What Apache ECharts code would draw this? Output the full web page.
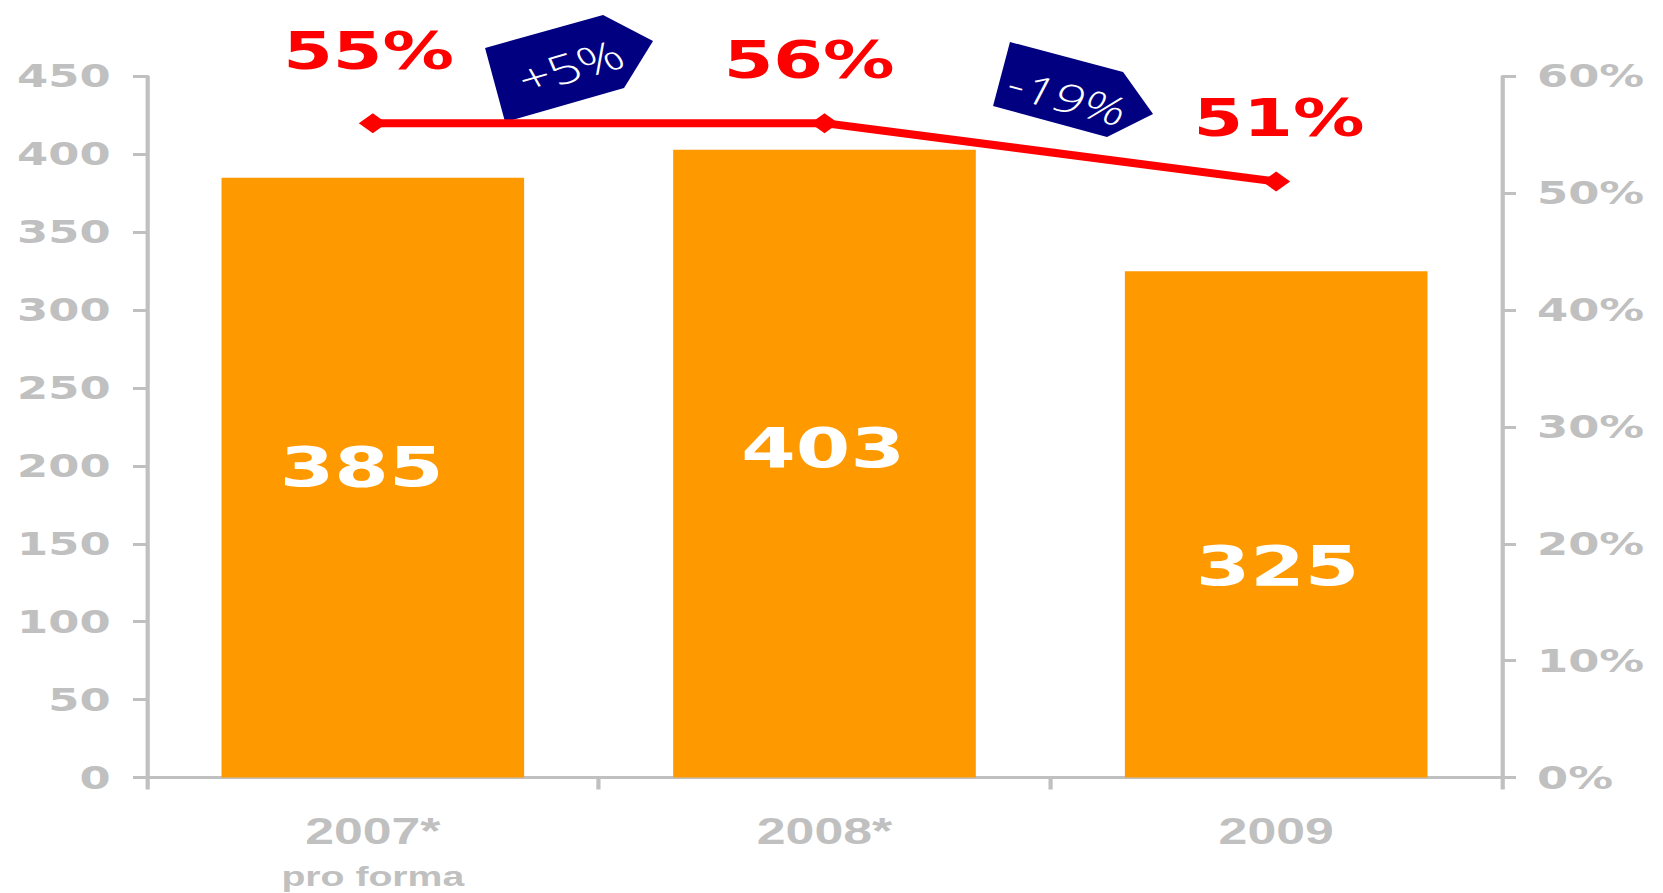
<!DOCTYPE html>
<html>
<head>
<meta charset="utf-8">
<script src="https://cdn.jsdelivr.net/npm/echarts@6/dist/echarts.min.js"></script>
<style>
  html, body { margin: 0; padding: 0; background: #ffffff; overflow: hidden; }
  #wrap { width: 1663px; height: 893px; overflow: hidden; position: relative; }
  #chart { width: 1188px; height: 893px; transform-origin: 0 0; position: absolute; left: 0; top: 0; }
</style>
</head>
<body>
<div id="wrap"><div id="chart"></div></div>
<script>
// ---- data ----
const categories = ['2007*', '2008*', '2009'];
const subLabels = ['pro forma', '', ''];
const barValues = [385, 403, 325];
const shareValues = [56, 56, 51];
const shareLabels = ['55%', '56%', '51%'];
const changeLabels = ['+5%', '-19%'];
const leftAxis = { min: 0, max: 450, interval: 50 };
const rightAxis = { min: 0, max: 60, interval: 10 };

// ---- layout (chart drawn narrow, then stretched horizontally like the original) ----
const STRETCH = 1663 / 1188;
const el = document.getElementById('chart');
el.style.transform = 'scaleX(' + STRETCH + ')';

const GRAY = '#c0c0c0';
const barLabelOffsets = [[-8, -11], [-1, -16], [1, 41]];
const lineLabelOffsets = [[-3, -72], [-11, -63], [2, -63]];

const chart = echarts.init(el, null, { renderer: 'svg' });

const tagShapes = [
  [[346.5, 48], [430.8, 15], [466.5, 41], [445.8, 88], [360.8, 122]],
  [[721.5, 42], [802.3, 72], [823.7, 114], [790.8, 137], [709.4, 106]]
];
const tagText = [
  { x: 407, y: 66, rot: 0.38, size: 40 },
  { x: 763, y: 97, rot: -0.356, size: 39 }
];

const graphics = [];
tagShapes.forEach((pts, i) => {
  graphics.push({
    type: 'polygon', z: 5,
    shape: { points: pts },
    style: { fill: '#000080' }
  });
  graphics.push({
    type: 'text', z: 6,
    x: tagText[i].x, y: tagText[i].y, rotation: tagText[i].rot,
    style: {
      text: changeLabels[i], fill: '#ffffff',
      font: '300 ' + tagText[i].size + 'px "Open Sans", sans-serif',
      textAlign: 'center', textVerticalAlign: 'middle'
    }
  });
});

const option = {
  animation: false,
  backgroundColor: '#ffffff',
  grid: { left: 105, right: 115, top: 76.4, bottom: 115.5, containLabel: false },
  xAxis: {
    type: 'category',
    data: categories,
    boundaryGap: true,
    axisLine: { show: true, lineStyle: { color: GRAY, width: 3 } },
    axisTick: { show: true, length: 12, lineStyle: { color: GRAY, width: 3 } },
    axisLabel: {
      margin: 32,
      formatter: (v, idx) => '{a|' + v + '}' + (subLabels[idx] ? '\n{b|' + subLabels[idx] + '}' : ''),
      rich: {
        a: { fontFamily: '"Liberation Sans", Arial, sans-serif', fontWeight: 'bold', fontSize: 37, color: GRAY, lineHeight: 44 },
        b: { fontFamily: '"Liberation Sans", Arial, sans-serif', fontWeight: 'bold', fontSize: 28, color: GRAY, lineHeight: 46 }
      }
    },
    splitLine: { show: false }
  },
  yAxis: [
    {
      type: 'value', position: 'left',
      min: leftAxis.min, max: leftAxis.max, interval: leftAxis.interval,
      axisLine: { show: true, lineStyle: { color: GRAY, width: 3 } },
      axisTick: { show: true, length: 10, lineStyle: { color: GRAY, width: 3 } },
      axisLabel: { margin: 26, color: GRAY, fontFamily: '"DejaVu Sans", Verdana, sans-serif', fontWeight: 'bold', fontSize: 32 },
      splitLine: { show: false }
    },
    {
      type: 'value', position: 'right',
      min: rightAxis.min, max: rightAxis.max, interval: rightAxis.interval,
      axisLine: { show: true, lineStyle: { color: GRAY, width: 3 } },
      axisTick: { show: true, length: 10, lineStyle: { color: GRAY, width: 3 } },
      axisLabel: { margin: 25, color: GRAY, fontFamily: '"DejaVu Sans", Verdana, sans-serif', fontWeight: 'bold', fontSize: 32, formatter: '{value}%' },
      splitLine: { show: false }
    }
  ],
  series: [
    {
      type: 'bar',
      yAxisIndex: 0,
      barWidth: '67%',
      itemStyle: { color: '#ff9900' },
      data: barValues.map((v, i) => ({
        value: v,
        label: { offset: barLabelOffsets[i] }
      })),
      label: {
        show: true, position: 'inside',
        color: '#ffffff', fontFamily: '"DejaVu Sans", Verdana, sans-serif',
        fontWeight: 'bold', fontSize: 56
      },
      z: 2
    },
    {
      type: 'line',
      yAxisIndex: 1,
      symbol: 'diamond',
      symbolSize: 20,
      lineStyle: { color: '#ff0000', width: 8 },
      itemStyle: { color: '#ff0000' },
      data: shareValues.map((v, i) => ({
        value: v,
        label: { offset: lineLabelOffsets[i], formatter: shareLabels[i] }
      })),
      label: {
        show: true, position: 'inside',
        color: '#ff0000', fontFamily: '"DejaVu Sans", Verdana, sans-serif',
        fontWeight: 'bold', fontSize: 51
      },
      z: 10
    }
  ],
  graphic: graphics
};

chart.setOption(option);
</script>
</body>
</html>
